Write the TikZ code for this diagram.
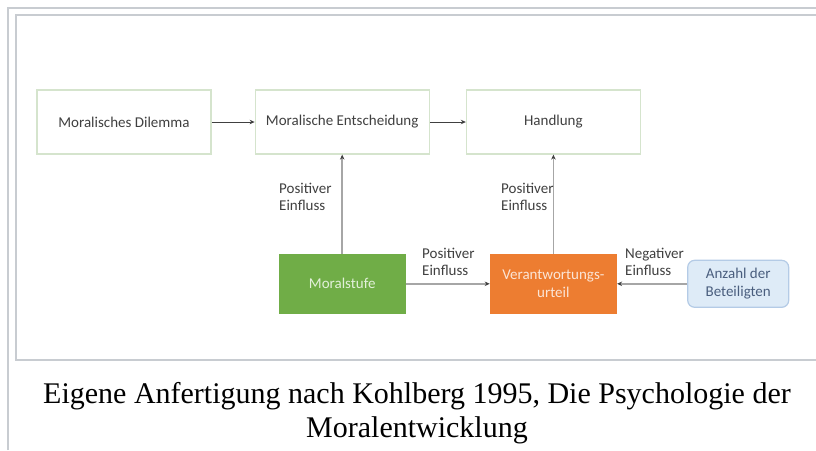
\documentclass[tikz,border=0pt]{standalone}
\usepackage{fontspec}
\setmainfont{Liberation Serif}
\newfontfamily\diagfont{Carlito}
\usetikzlibrary{positioning,arrows.meta}
\definecolor{boxline}{HTML}{D5E4CD}
\definecolor{txtgray}{HTML}{404040}
\definecolor{linegray}{HTML}{A6A6A6}
\definecolor{mgreen}{HTML}{70AD47}
\definecolor{mlgreen}{HTML}{E2F0D9}
\definecolor{morange}{HTML}{ED7D31}
\definecolor{mlorange}{HTML}{FBE5D6}
\definecolor{lblue}{HTML}{DEEBF7}
\definecolor{bblue}{HTML}{B4CBE6}
\definecolor{tblue}{HTML}{4A5E7E}
\definecolor{framegray}{HTML}{C8CCD1}
\tikzset{
  stage/.style = {draw=boxline, line width=1.2pt, fill=white, minimum width=174pt,
    minimum height=64pt, inner sep=0pt, text=txtgray, font=\diagfont\fontsize{15}{18}\selectfont},
  factor/.style = {minimum width=127pt, minimum height=60pt, inner sep=0pt, align=center,
    font=\diagfont\fontsize{15}{18}\selectfont},
  roundbox/.style = {draw=bblue, line width=1.2pt, fill=lblue, rounded corners=7pt,
    minimum width=101pt, minimum height=47pt, inner sep=0pt, align=center, text=tblue,
    font=\diagfont\fontsize{15}{18}\selectfont},
  effect/.style = {anchor=west, align=left, inner sep=0pt, text=txtgray,
    font=\diagfont\fontsize{15}{17.5}\selectfont},
  flow/.style = {-{Stealth[length=5pt,width=4.5pt]}, txtgray, line width=0.8pt},
  link/.style = {-{Stealth[length=5pt,width=4.5pt,color=txtgray]}, linegray, line width=1.8pt},
  frameline/.style = {draw=framegray}
}

\begin{document}
\begin{tikzpicture}[x=1pt, y=-1pt]
\useasboundingbox (0,0) rectangle (816,450);
\fill [white] (0,0) rectangle (816,450);
\draw [frameline, line width=2pt] (8,450) -- (8,8) -- (816,8);
\draw [frameline, line width=1.2pt] (816,15) -- (16,15) -- (16,360) -- (816,360);

\node [stage] (dilemma) at (124,122) {Moralisches Dilemma};
\node [stage, right = 43pt of dilemma] (entscheidung) {Moralische Entscheidung};
\node [stage, right = 36pt of entscheidung] (handlung) {Handlung};
\node [factor, fill=mgreen, text=mlgreen, below = 99pt of entscheidung] (moralstufe) {Moralstufe};
\node [factor, fill=morange, text=mlorange, below = 99pt of handlung] (urteil) {Verantwortungs-\\urteil};
\node [roundbox, right = 70pt of urteil] (anzahl) {Anzahl der\\Beteiligten};

\draw [flow] (dilemma) -- (entscheidung);
\draw [flow] (entscheidung) -- (handlung);
\draw [link] (moralstufe) -- (entscheidung);
\draw [link] (urteil) -- (handlung);
\draw [link] (moralstufe) -- (urteil);
\draw [link] (anzahl) -- (urteil);

\node [effect] (einfluss1) at (279,197) {Positiver\\Einfluss};
\node [effect] (einfluss2) at (501,197) {Positiver\\Einfluss};
\node [effect] (einfluss3) at (422,262) {Positiver\\Einfluss};
\node [effect] (einfluss4) at (625,262) {Negativer\\Einfluss};

\node [anchor=base, font=\fontsize{30}{34}\selectfont] (caption1) at (417,403)
  {Eigene Anfertigung nach Kohlberg 1995, Die Psychologie der};
\node [anchor=base, font=\fontsize{30}{34}\selectfont] (caption2) at (417,437) {Moralentwicklung};
\end{tikzpicture}
\end{document}
